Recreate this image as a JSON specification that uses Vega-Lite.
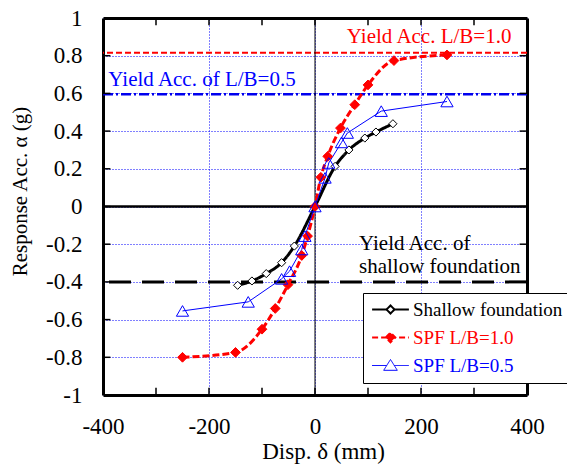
{
  "$schema": "https://vega.github.io/schema/vega-lite/v6.json",
  "width": 424,
  "height": 377,
  "autosize": "none",
  "padding": {"left": 103, "top": 18, "right": 40, "bottom": 71},
  "background": "white",
  "config": {
    "view": {"stroke": null},
    "axis": {"labelFont": "Liberation Serif", "titleFont": "Liberation Serif"},
    "legend": {"labelFont": "Liberation Serif", "titleFont": "Liberation Serif"},
    "style": {"guide-label": {"font": "Liberation Serif"}, "guide-title": {"font": "Liberation Serif"}}
  },
  "datasets": {
    "curves": [
      {"series": "Shallow foundation", "x": -146, "y": -0.418},
      {"series": "Shallow foundation", "x": -119, "y": -0.395},
      {"series": "Shallow foundation", "x": -92, "y": -0.356},
      {"series": "Shallow foundation", "x": -63, "y": -0.298},
      {"series": "Shallow foundation", "x": -39, "y": -0.21},
      {"series": "Shallow foundation", "x": 0, "y": 0},
      {"series": "Shallow foundation", "x": 38, "y": 0.213},
      {"series": "Shallow foundation", "x": 64, "y": 0.3},
      {"series": "Shallow foundation", "x": 94, "y": 0.363},
      {"series": "Shallow foundation", "x": 115, "y": 0.395},
      {"series": "Shallow foundation", "x": 147, "y": 0.439},
      {"series": "SPF L/B=1.0", "x": -250, "y": -0.8},
      {"series": "SPF L/B=1.0", "x": -150, "y": -0.774},
      {"series": "SPF L/B=1.0", "x": -100, "y": -0.651},
      {"series": "SPF L/B=1.0", "x": -75, "y": -0.541},
      {"series": "SPF L/B=1.0", "x": -51, "y": -0.415},
      {"series": "SPF L/B=1.0", "x": -25, "y": -0.26},
      {"series": "SPF L/B=1.0", "x": -14, "y": -0.157},
      {"series": "SPF L/B=1.0", "x": 0, "y": 0},
      {"series": "SPF L/B=1.0", "x": 11, "y": 0.155},
      {"series": "SPF L/B=1.0", "x": 24, "y": 0.266},
      {"series": "SPF L/B=1.0", "x": 48, "y": 0.416},
      {"series": "SPF L/B=1.0", "x": 75, "y": 0.54},
      {"series": "SPF L/B=1.0", "x": 100, "y": 0.645},
      {"series": "SPF L/B=1.0", "x": 149, "y": 0.774},
      {"series": "SPF L/B=1.0", "x": 249, "y": 0.804},
      {"series": "SPF L/B=0.5", "x": -250, "y": -0.554},
      {"series": "SPF L/B=0.5", "x": -126, "y": -0.506},
      {"series": "SPF L/B=0.5", "x": -63, "y": -0.384},
      {"series": "SPF L/B=0.5", "x": -48, "y": -0.343},
      {"series": "SPF L/B=0.5", "x": -25, "y": -0.228},
      {"series": "SPF L/B=0.5", "x": -19, "y": -0.157},
      {"series": "SPF L/B=0.5", "x": 0, "y": 0},
      {"series": "SPF L/B=0.5", "x": 19, "y": 0.152},
      {"series": "SPF L/B=0.5", "x": 26, "y": 0.231},
      {"series": "SPF L/B=0.5", "x": 50, "y": 0.34},
      {"series": "SPF L/B=0.5", "x": 61, "y": 0.39},
      {"series": "SPF L/B=0.5", "x": 125, "y": 0.506},
      {"series": "SPF L/B=0.5", "x": 249, "y": 0.557}
    ],
    "levels": [
      {"level": "Yield L/B=1.0", "x": null, "y": 0.816},
      {"level": "Yield L/B=0.5", "x": null, "y": 0.595},
      {"level": "Yield shallow", "x": null, "y": -0.4},
      {"level": "zero acc", "x": null, "y": 0},
      {"level": "zero disp", "x": 0, "y": null}
    ],
    "tickvals": [
      {"axis": "x", "v": -300}, {"axis": "x", "v": -200}, {"axis": "x", "v": -100},
      {"axis": "x", "v": 0}, {"axis": "x", "v": 100}, {"axis": "x", "v": 200}, {"axis": "x", "v": 300},
      {"axis": "y", "v": -0.8}, {"axis": "y", "v": -0.6}, {"axis": "y", "v": -0.4}, {"axis": "y", "v": -0.2},
      {"axis": "y", "v": 0}, {"axis": "y", "v": 0.2}, {"axis": "y", "v": 0.4}, {"axis": "y", "v": 0.6}, {"axis": "y", "v": 0.8}
    ],
    "notes": [
      {"series": "SPF L/B=1.0", "x": 60, "y": 0.9, "text": "Yield Acc. L/B=1.0"},
      {"series": "SPF L/B=0.5", "x": -390, "y": 0.673, "text": "Yield Acc. of L/B=0.5"},
      {"series": "Shallow foundation", "x": 83, "y": -0.198, "text": "Yield Acc. of"},
      {"series": "Shallow foundation", "x": 83, "y": -0.319, "text": "shallow foundation"}
    ]
  },
  "layer": [
    {
      "data": {"name": "levels"},
      "transform": [{"filter": "datum.level === 'Yield L/B=1.0'"}],
      "mark": {"type": "rule", "color": "#ff0000", "strokeWidth": 2, "strokeDash": [6, 3]},
      "encoding": {"y": {"field": "y", "type": "quantitative", "axis": null}}
    },
    {
      "data": {"name": "levels"},
      "transform": [{"filter": "datum.level === 'Yield L/B=0.5'"}],
      "mark": {"type": "rule", "color": "#0000ee", "strokeWidth": 2.5, "strokeDash": [10, 3, 2, 3]},
      "encoding": {"y": {"field": "y", "type": "quantitative", "axis": null}}
    },
    {
      "data": {"name": "levels"},
      "transform": [{"filter": "datum.level === 'Yield shallow'"}],
      "mark": {"type": "rule", "color": "black", "strokeWidth": 3, "strokeDash": [22, 11]},
      "encoding": {"y": {"field": "y", "type": "quantitative", "axis": null}}
    },
    {
      "data": {"name": "levels"},
      "transform": [{"filter": "datum.level === 'zero acc'"}],
      "mark": {"type": "rule", "color": "black", "strokeWidth": 2.5},
      "encoding": {"y": {"field": "y", "type": "quantitative", "axis": null}}
    },
    {
      "data": {"name": "levels"},
      "transform": [{"filter": "datum.level === 'zero disp'"}],
      "mark": {"type": "rule", "color": "black", "strokeWidth": 1},
      "encoding": {
        "x": {
          "field": "x", "type": "quantitative",
          "axis": {"orient": "bottom", "values": [-200, 0, 200], "labels": false, "ticks": false, "domain": false, "title": null,
                   "grid": true, "gridColor": "#0000ff", "gridDash": [1, 2], "gridWidth": 1, "gridOpacity": 1}
        }
      }
    },
    {
      "data": {"name": "tickvals"},
      "transform": [{"filter": "datum.axis === 'x'"}],
      "mark": {"type": "rule", "color": "black", "strokeWidth": 1.5},
      "encoding": {
        "x": {"field": "v", "type": "quantitative", "axis": null},
        "y": {"datum": -1, "type": "quantitative", "axis": null},
        "y2": {"datum": -0.962}
      }
    },
    {
      "data": {"name": "tickvals"},
      "transform": [{"filter": "datum.axis === 'x'"}],
      "mark": {"type": "rule", "color": "black", "strokeWidth": 1.5},
      "encoding": {
        "x": {"field": "v", "type": "quantitative", "axis": null},
        "y": {"datum": 1, "type": "quantitative", "axis": null},
        "y2": {"datum": 0.962}
      }
    },
    {
      "data": {"name": "tickvals"},
      "transform": [{"filter": "datum.axis === 'y'"}],
      "mark": {"type": "rule", "color": "black", "strokeWidth": 1.5},
      "encoding": {
        "y": {"field": "v", "type": "quantitative", "axis": null},
        "x": {"datum": -400, "type": "quantitative", "axis": null},
        "x2": {"datum": -386}
      }
    },
    {
      "data": {"name": "tickvals"},
      "transform": [{"filter": "datum.axis === 'y'"}],
      "mark": {"type": "rule", "color": "black", "strokeWidth": 1.5},
      "encoding": {
        "y": {"field": "v", "type": "quantitative", "axis": null},
        "x": {"datum": 400, "type": "quantitative", "axis": null},
        "x2": {"datum": 386}
      }
    },
    {
      "data": {"name": "curves"},
      "transform": [{"filter": "datum.series !== 'SPF L/B=0.5'"}],
      "mark": {"type": "line", "interpolate": "monotone", "strokeWidth": 3},
      "encoding": {
        "x": {
          "field": "x", "type": "quantitative",
          "scale": {"domain": [-400, 400], "nice": false, "zero": false},
          "axis": {
            "orient": "bottom",
            "values": [-400, -200, 0, 200, 400],
            "labelExpr": "'' + datum.value",
            "grid": false,
            "domain": true, "domainColor": "black", "domainWidth": 3,
            "ticks": false,
            "labelFont": "Liberation Serif", "labelFontSize": 23, "labelColor": "black",
            "labelFlush": false, "labelOverlap": false,
            "labelBaseline": "middle",
            "labelPadding": 31,
            "title": "Disp. δ (mm)",
            "titleFont": "Liberation Serif", "titleFontSize": 23, "titleFontWeight": "normal", "titleColor": "black",
            "titleX": 220,
            "titleY": 56,
            "titleBaseline": "middle"
          }
        },
        "y": {
          "field": "y", "type": "quantitative",
          "scale": {"domain": [-1, 1], "nice": false, "zero": false},
          "axis": {
            "orient": "left",
            "values": [-1, -0.8, -0.6, -0.4, -0.2, 0, 0.2, 0.4, 0.6, 0.8, 1],
            "labelExpr": "'' + datum.value",
            "grid": true, "gridColor": "#0000ff", "gridDash": [1, 2], "gridWidth": 1, "gridOpacity": 1,
            "domain": true, "domainColor": "black", "domainWidth": 3,
            "ticks": false,
            "labelFont": "Liberation Serif", "labelFontSize": 23, "labelColor": "black",
            "labelFlush": false, "labelOverlap": false,
            "labelPadding": 21,
            "title": "Response Acc. α (g)",
            "titleFont": "Liberation Serif", "titleFontSize": 21, "titleFontWeight": "normal", "titleColor": "black",
            "titleX": -83,
            "titleY": 173,
            "titleBaseline": "middle"
          }
        },
        "color": {
          "field": "series", "type": "nominal",
          "scale": {"domain": ["Shallow foundation", "SPF L/B=1.0", "SPF L/B=0.5"], "range": ["black", "#ff0000", "#0000ff"]},
          "legend": {
            "orient": "none",
            "legendX": 260,
            "legendY": 275,
            "title": null,
            "fillColor": "white",
            "strokeColor": "black",
            "padding": 7,
            "rowPadding": 8,
            "labelFont": "Liberation Serif",
            "labelFontSize": 19,
            "labelColor": "black",
            "symbolSize": 256,
            "symbolOffset": 11,
            "labelOffset": 13,
            "encode": {
              "symbols": {
                "update": {
                  "shape": {"signal": "datum.value === 'Shallow foundation' ? 'M-2.3,0H-0.5M0.5,0H2.3M-0.5,0L0,-0.5L0.5,0L0,0.5Z' : datum.value === 'SPF L/B=1.0' ? 'M-2.3,0H2.3M-0.6,0L0,-0.6L0.6,0L0,0.6Z' : 'M-2.3,0H-0.47M0.47,0H2.3M0,-0.75L0.85,0.6L-0.85,0.6Z'"},
                  "fill": {"signal": "datum.value === 'SPF L/B=1.0' ? '#ff0000' : 'white'"},
                  "fillOpacity": {"signal": "datum.value === 'SPF L/B=1.0' ? 1 : 0"},
                  "stroke": {"signal": "datum.value === 'Shallow foundation' ? 'black' : datum.value === 'SPF L/B=1.0' ? '#ff0000' : '#0000ff'"},
                  "strokeWidth": {"signal": "datum.value === 'SPF L/B=0.5' ? 1 : 2"},
                  "strokeDash": {"signal": "datum.value === 'SPF L/B=1.0' ? [6, 3] : [1, 0]"},
                  "opacity": {"value": 1}
                }
              },
              "labels": {
                "update": {
                  "fill": {"signal": "datum.value === 'Shallow foundation' ? 'black' : datum.value === 'SPF L/B=1.0' ? '#ff0000' : '#0000ff'"},
                  "font": {"value": "Liberation Serif"}
                }
              }
            }
          }
        },
        "strokeDash": {
          "field": "series", "type": "nominal",
          "scale": {"domain": ["Shallow foundation", "SPF L/B=1.0"], "range": [[1, 0], [7, 3]]},
          "legend": null
        }
      }
    },
    {
      "data": {"name": "curves"},
      "transform": [{"filter": "datum.series === 'SPF L/B=0.5'"}],
      "mark": {"type": "line", "strokeWidth": 1},
      "encoding": {
        "x": {"field": "x", "type": "quantitative", "axis": null},
        "y": {"field": "y", "type": "quantitative", "axis": null},
        "color": {"field": "series", "type": "nominal", "legend": null}
      }
    },
    {
      "data": {"name": "curves"},
      "transform": [{"filter": "datum.series === 'Shallow foundation'"}],
      "mark": {"type": "point", "shape": "diamond", "size": 66, "fill": "white", "stroke": "black", "strokeWidth": 1, "opacity": 1, "filled": true},
      "encoding": {
        "x": {"field": "x", "type": "quantitative", "axis": null},
        "y": {"field": "y", "type": "quantitative", "axis": null}
      }
    },
    {
      "data": {"name": "curves"},
      "transform": [{"filter": "datum.series === 'SPF L/B=1.0'"}],
      "mark": {"type": "point", "shape": "diamond", "size": 95, "fill": "#ff0000", "stroke": "#ff0000", "strokeWidth": 1, "opacity": 1, "filled": true},
      "encoding": {
        "x": {"field": "x", "type": "quantitative", "axis": null},
        "y": {"field": "y", "type": "quantitative", "axis": null}
      }
    },
    {
      "data": {"name": "curves"},
      "transform": [{"filter": "datum.series === 'SPF L/B=0.5'"}],
      "mark": {"type": "point", "shape": "triangle-up", "size": 150, "filled": false, "stroke": "#0000ff", "strokeWidth": 1, "opacity": 1},
      "encoding": {
        "x": {
          "field": "x", "type": "quantitative",
          "axis": {"orient": "top", "labels": false, "title": null, "grid": false, "ticks": false,
                   "domain": true, "domainColor": "black", "domainWidth": 3}
        },
        "y": {
          "field": "y", "type": "quantitative",
          "axis": {"orient": "right", "labels": false, "title": null, "grid": false, "ticks": false,
                   "domain": true, "domainColor": "black", "domainWidth": 3}
        }
      }
    },
    {
      "data": {"name": "notes"},
      "mark": {"type": "text", "align": "left", "baseline": "middle", "font": "Liberation Serif", "fontSize": 21},
      "encoding": {
        "x": {"field": "x", "type": "quantitative", "axis": null},
        "y": {"field": "y", "type": "quantitative", "axis": null},
        "text": {"field": "text"},
        "color": {"field": "series", "type": "nominal", "legend": null}
      }
    }
  ],
  "resolve": {"axis": {"x": "independent", "y": "independent"}}
}
